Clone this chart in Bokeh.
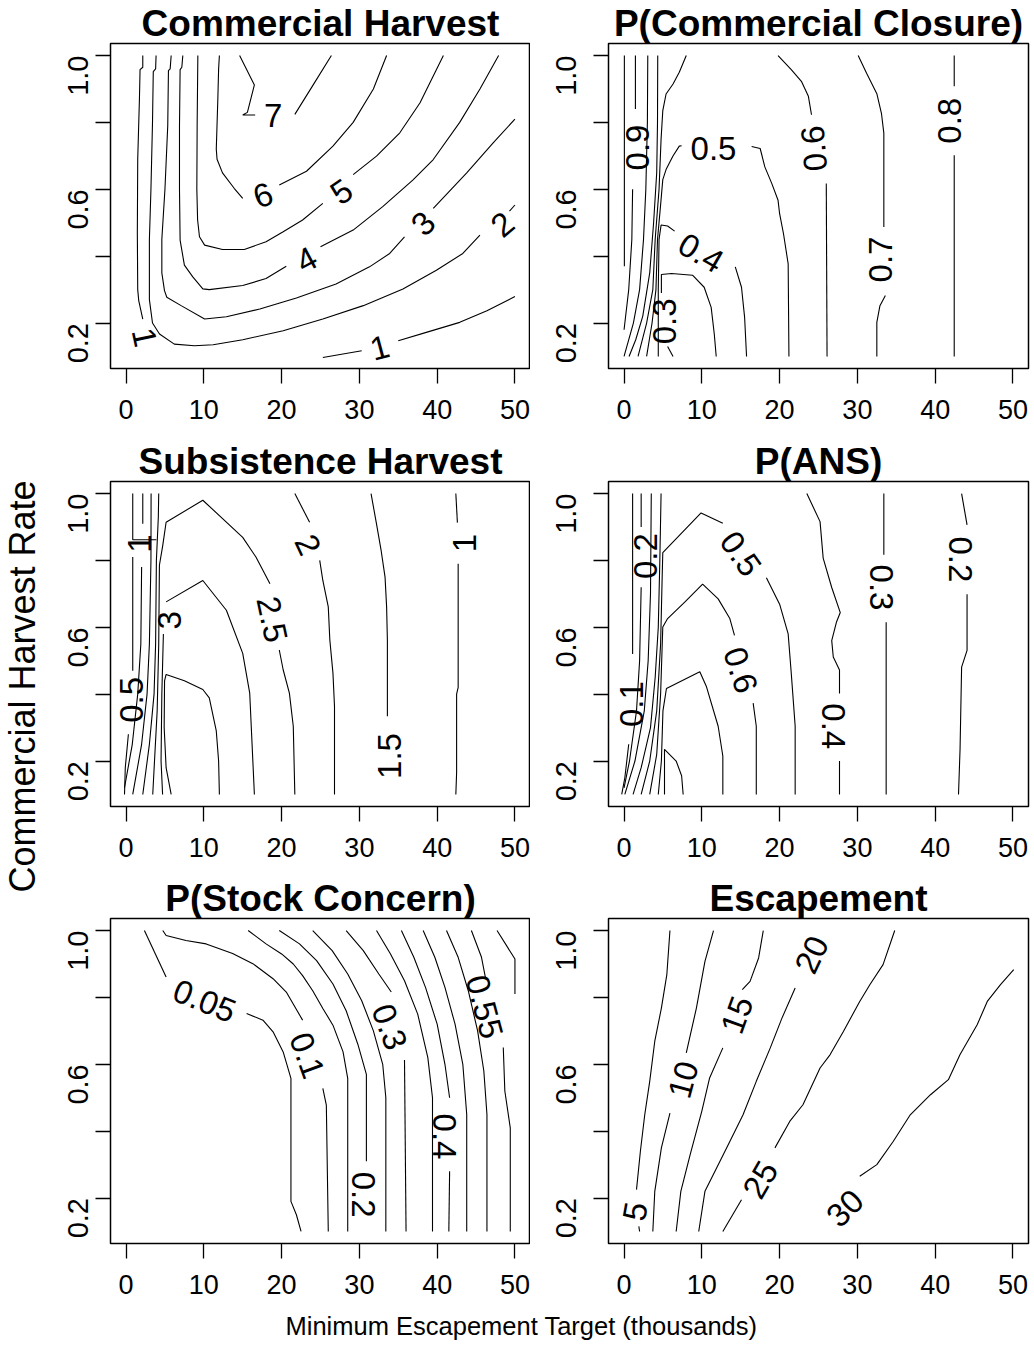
import math
from bokeh.plotting import figure
from bokeh.layouts import row, column, gridplot
from bokeh.models import Range1d, FixedTicker
from bokeh.core.properties import value
from bokeh.embed import file_html
from bokeh.resources import INLINE

# ---------------- data ----------------
X_TICKS = [0, 10, 20, 30, 40, 50]
Y_TICKS = [0.2, 0.4, 0.6, 0.8, 1.0]
Y_TICK_LABELS = ["0.2", "", "0.6", "", "1.0"]
X_LABEL = "Minimum Escapement Target (thousands)"
Y_LABEL = "Commercial Harvest Rate"

panel_titles = ["Commercial Harvest", "P(Commercial Closure)", "Subsistence Harvest",
                "P(ANS)", "P(Stock Concern)", "Escapement"]

# contour lines: level -> list of line pieces [(x, y), ...]
commercial_harvest = {
    1: [[(2.15, 1.0), (2.15, 0.965), (1.8, 0.958), (1.72, 0.87), (1.5, 0.69), (1.45, 0.47), (1.5, 0.3), (1.63, 0.267), (2.15, 0.212)],
        [(25.3, 0.097), (30.3, 0.117)],
        [(35.0, 0.147), (38.6, 0.172), (42.9, 0.202), (46.4, 0.237), (50.0, 0.279)]],
    2: [[(3.86, 1.0), (3.8, 0.96), (3.5, 0.952), (3.4, 0.8), (3.2, 0.6), (3.0, 0.45), (3.0, 0.27), (3.4, 0.2), (4.3, 0.167),
         (6.2, 0.137), (8.8, 0.132), (11.2, 0.135), (15.0, 0.15), (20.2, 0.177), (25.3, 0.212), (30.5, 0.252),
         (35.6, 0.302), (39.9, 0.358), (43.3, 0.408), (45.5, 0.463)],
        [(49.3, 0.535), (50.0, 0.553)]],
    3: [[(5.8, 1.0), (5.67, 0.96), (5.45, 0.955), (5.36, 0.79), (5.0, 0.6), (4.6, 0.45), (4.6, 0.35), (4.94, 0.297),
         (5.24, 0.277), (7.08, 0.252), (10.1, 0.212), (12.9, 0.219), (17.2, 0.242), (21.9, 0.275), (27.0, 0.317),
         (31.3, 0.368), (33.9, 0.408), (35.8, 0.458)],
        [(39.5, 0.543), (43.8, 0.649), (47.2, 0.739), (50.0, 0.81)]],
    4: [[(7.3, 1.0), (7.17, 0.965), (6.95, 0.958), (6.87, 0.79), (6.87, 0.6), (6.95, 0.448), (7.5, 0.373), (8.58, 0.338),
         (9.87, 0.302), (10.7, 0.3), (15.0, 0.312), (18.0, 0.333), (20.6, 0.37)],
        [(25.0, 0.428), (29.2, 0.478), (33.0, 0.548), (36.9, 0.628), (39.5, 0.689), (42.9, 0.8), (45.5, 0.9), (47.9, 1.0)]],
    5: [[(9.23, 1.0), (9.14, 0.79), (9.1, 0.6), (9.2, 0.508), (9.44, 0.458), (10.1, 0.433), (12.4, 0.42), (15.2, 0.42),
         (18.0, 0.443), (20.2, 0.473), (22.7, 0.508), (25.3, 0.558)],
        [(29.2, 0.644), (32.2, 0.699), (35.2, 0.769), (37.8, 0.859), (40.8, 1.0)]],
    6: [[(12.0, 1.0), (11.9, 0.96), (11.8, 0.87), (11.6, 0.72), (11.7, 0.69), (12.4, 0.649), (13.9, 0.603), (15.0, 0.573)],
        [(19.7, 0.613), (23.2, 0.654), (26.6, 0.729), (29.2, 0.8), (31.8, 0.9), (33.5, 1.0)]],
    7: [[(14.6, 1.0), (16.5, 0.912), (15.6, 0.83), (15.0, 0.822), (16.6, 0.822)],
        [(21.7, 0.824), (24.0, 0.91), (26.4, 1.0)]],
}
commercial_harvest_labels = [("7", 18.9, 0.822, 0), ("6", 17.6, 0.583, 20), ("5", 27.7, 0.593, 35),
                             ("4", 23.2, 0.39, 28), ("3", 38.2, 0.498, 45), ("2", 48.4, 0.495, 40),
                             ("1", 32.6, 0.127, 15), ("1", 2.4, 0.157, -78)]

commercial_closure = {
    0.3: [[(5.6, 0.13), (6.3, 0.1)],
          [(4.8, 0.29), (4.8, 0.345), (6.1, 0.348), (8.8, 0.343), (10.3, 0.307), (11.2, 0.247), (11.6, 0.167), (11.85, 0.1)]],
    0.4: [[(4.4, 0.1), (4.4, 0.3), (4.5, 0.45), (4.76, 0.493), (5.6, 0.49), (6.5, 0.475)],
          [(14.3, 0.368), (15.1, 0.307), (15.5, 0.217), (15.75, 0.1)]],
    0.5: [[(2.9, 0.1), (3.6, 0.2), (4.1, 0.3), (4.3, 0.45), (4.68, 0.548), (4.98, 0.629), (5.4, 0.659), (6.27, 0.699), (7.1, 0.729), (7.4, 0.73)],
          [(16.4, 0.728), (17.5, 0.722), (18.1, 0.667), (19.0, 0.617), (19.8, 0.567), (20.0, 0.527), (20.5, 0.467), (21.1, 0.377), (21.2, 0.1)]],
    0.6: [[(8.0, 1.0), (7.1, 0.95), (6.3, 0.915), (5.4, 0.885), (4.98, 0.835), (4.76, 0.75), (4.5, 0.6), (4.0, 0.45), (3.7, 0.3), (2.9, 0.2), (1.8, 0.1)],
          [(19.8, 1.0), (21.5, 0.958), (22.8, 0.923), (23.7, 0.878), (24.1, 0.823)],
          [(26.0, 0.617), (26.1, 0.1)]],
    0.7: [[(4.33, 1.0), (4.3, 0.8), (4.2, 0.65), (3.8, 0.5), (3.3, 0.35), (2.4, 0.22), (1.5, 0.15), (0.64, 0.1)],
          [(30.1, 1.0), (31.2, 0.946), (32.5, 0.886), (33.1, 0.826), (33.4, 0.768), (33.4, 0.487)],
          [(33.6, 0.282), (32.9, 0.252), (32.5, 0.202), (32.5, 0.1)]],
    0.8: [[(3.05, 1.0), (3.0, 0.8), (2.8, 0.6), (2.5, 0.45), (2.0, 0.3), (1.2, 0.2), (0.0, 0.1)],
          [(42.45, 1.0), (42.45, 0.908)],
          [(42.45, 0.702), (42.45, 0.1)]],
    0.9: [[(1.46, 1.0), (1.46, 0.84)],
          [(1.1, 0.6), (1.0, 0.45), (0.6, 0.3), (0.0, 0.18)],
          [(0.04, 1.0), (0.04, 0.37)]],
}
commercial_closure_labels = [("0.3", 5.2, 0.205, 90), ("0.4", 9.9, 0.41, -30), ("0.5", 11.5, 0.722, 0),
                             ("0.6", 24.4, 0.722, 95), ("0.7", 33.0, 0.39, 90), ("0.8", 41.9, 0.805, 90),
                             ("0.9", 1.67, 0.725, 90)]

subsistence_harvest = {
    0.5: [[(0.86, 1.0), (0.86, 0.862), (3.9, 0.862)],
          [(0.86, 0.81), (0.86, 0.47)],
          [(0.3, 0.28), (-0.1, 0.18), (-0.2, 0.1)]],
    1.0: [[(2.15, 1.0), (2.15, 0.91)],
          [(2.0, 0.78), (1.9, 0.55), (1.5, 0.4), (0.8, 0.25), (-0.2, 0.12)],
          [(42.4, 1.0), (42.6, 0.913)],
          [(42.7, 0.79), (42.7, 0.42), (42.5, 0.4), (42.5, 0.165), (42.4, 0.1)]],
    1.5: [[(3.22, 1.0), (3.2, 0.8), (3.0, 0.55), (2.7, 0.4), (2.0, 0.25), (0.86, 0.1)],
          [(31.5, 1.0), (32.2, 0.909), (32.8, 0.829), (33.3, 0.75), (33.5, 0.661), (33.6, 0.562), (33.6, 0.334)]],
    2.0: [[(4.2, 1.0), (4.15, 0.93), (3.9, 0.8), (3.8, 0.55), (3.6, 0.4), (3.0, 0.25), (2.15, 0.1)],
          [(21.7, 1.0), (23.6, 0.914)],
          [(24.9, 0.8), (25.3, 0.74), (26.0, 0.661), (26.2, 0.562), (26.6, 0.463), (26.8, 0.364), (26.8, 0.1)]],
    2.5: [[(3.43, 0.1), (4.0, 0.35), (4.2, 0.55), (4.29, 0.786), (4.72, 0.845), (5.15, 0.914), (9.87, 0.98), (15.0, 0.869), (16.7, 0.81), (18.5, 0.73)],
          [(19.7, 0.532), (20.2, 0.473), (21.0, 0.403), (21.5, 0.304), (21.7, 0.1)]],
    3.0: [[(4.7, 0.1), (4.5, 0.2), (4.6, 0.4), (4.8, 0.58)],
          [(5.15, 0.676), (9.87, 0.74), (12.9, 0.651), (15.0, 0.522), (15.9, 0.403), (16.5, 0.1)]],
    3.5: [[(5.8, 0.1), (5.15, 0.18), (4.9, 0.3), (4.95, 0.44), (5.15, 0.459), (7.5, 0.44), (9.87, 0.414), (10.7, 0.389), (11.6, 0.29), (11.9, 0.2), (12.0, 0.1)]],
}
subsistence_harvest_labels = [("0.5", 0.64, 0.383, 90), ("1", 1.7, 0.85, 90), ("3", 5.58, 0.621, 90),
                              ("2.5", 18.8, 0.624, -78), ("2", 23.4, 0.847, -65), ("1.5", 33.9, 0.215, 90),
                              ("1", 43.5, 0.852, 90)]

p_ans = {
    0.1: [[(1.1, 1.0), (1.1, 0.52)],
          [(0.6, 0.25), (0.1, 0.15), (-0.3, 0.1)]],
    0.2: [[(2.2, 1.0), (2.2, 0.9)],
          [(2.2, 0.72), (2.0, 0.5), (1.6, 0.35), (0.7, 0.2), (0.0, 0.12)],
          [(43.4, 1.0), (44.1, 0.906)],
          [(44.1, 0.699), (44.1, 0.531), (43.4, 0.481), (43.2, 0.235), (43.0, 0.1)]],
    0.3: [[(3.5, 1.0), (3.4, 0.7), (3.1, 0.5), (2.6, 0.35), (1.4, 0.2), (0.1, 0.1)],
          [(33.4, 1.0), (33.4, 0.817)],
          [(33.7, 0.615), (33.7, 0.1)]],
    0.4: [[(4.76, 1.0), (4.6, 0.8), (4.4, 0.6), (4.0, 0.45), (3.4, 0.3), (2.2, 0.18), (1.16, 0.1)],
          [(23.5, 1.0), (25.2, 0.916), (25.6, 0.807), (26.7, 0.719), (27.8, 0.644), (27.3, 0.615), (26.7, 0.56), (26.9, 0.511), (27.7, 0.472), (27.7, 0.402)],
          [(27.7, 0.2), (27.7, 0.1)]],
    0.5: [[(2.2, 0.1), (3.3, 0.2), (4.2, 0.35), (4.7, 0.55), (4.9, 0.75), (4.98, 0.823), (9.9, 0.942), (12.7, 0.911)],
          [(18.3, 0.748), (20.0, 0.669), (21.1, 0.58), (21.5, 0.462), (22.0, 0.304), (22.0, 0.1)]],
    0.6: [[(3.3, 0.1), (4.2, 0.22), (4.7, 0.4), (4.98, 0.601), (5.6, 0.626), (7.8, 0.675), (10.1, 0.729), (12.1, 0.685), (13.6, 0.626), (14.2, 0.576)],
          [(16.6, 0.373), (17.0, 0.304), (17.0, 0.1)]],
    0.7: [[(4.4, 0.1), (4.8, 0.2), (5.0, 0.35), (5.45, 0.417), (9.74, 0.467), (10.6, 0.422), (12.1, 0.304), (12.7, 0.215), (12.7, 0.1)]],
    0.8: [[(5.2, 0.1), (5.2, 0.235), (6.7, 0.2), (7.4, 0.156), (7.6, 0.1)]],
}
p_ans_labels = [("0.1", 0.9, 0.37, 90), ("0.2", 2.8, 0.813, 90), ("0.5", 15.0, 0.82, -55),
                ("0.6", 15.0, 0.472, -72), ("0.4", 26.9, 0.304, -90), ("0.3", 33.1, 0.719, -90),
                ("0.2", 43.2, 0.803, -90)]

stock_concern = {
    0.05: [[(2.36, 1.0), (5.15, 0.861)],
           [(15.5, 0.752), (17.6, 0.732), (18.9, 0.697), (20.2, 0.637), (21.2, 0.558), (21.2, 0.19), (21.9, 0.15), (22.5, 0.1)]],
    0.10: [[(4.72, 1.0), (5.15, 0.985), (7.7, 0.97), (10.3, 0.96), (13.7, 0.931), (16.3, 0.901), (18.9, 0.856), (20.6, 0.816), (22.7, 0.732)],
           [(25.3, 0.528), (25.75, 0.478), (26.0, 0.1)]],
    0.15: [[(15.7, 1.0), (18.0, 0.96), (20.0, 0.93), (21.5, 0.9), (22.7, 0.865), (24.0, 0.82), (25.3, 0.767), (26.6, 0.717), (27.9, 0.637), (28.5, 0.558), (28.5, 0.1)]],
    0.20: [[(19.7, 1.0), (22.3, 0.96), (24.5, 0.91), (26.6, 0.84), (28.3, 0.76), (29.8, 0.66), (30.9, 0.57), (30.9, 0.31)]],
    0.25: [[(24.0, 1.0), (26.5, 0.94), (28.5, 0.87), (30.3, 0.79), (31.8, 0.7), (33.0, 0.6), (33.4, 0.5), (33.4, 0.1)]],
    0.30: [[(28.3, 1.0), (30.5, 0.94), (32.5, 0.87), (34.1, 0.816)],
           [(35.8, 0.613), (36.0, 0.1)]],
    0.35: [[(32.2, 1.0), (34.0, 0.93), (35.8, 0.85), (37.5, 0.75), (38.8, 0.62), (39.4, 0.5), (39.4, 0.1)]],
    0.40: [[(35.4, 1.0), (37.0, 0.92), (38.5, 0.83), (40.0, 0.72), (41.0, 0.6), (41.6, 0.5)],
           [(41.6, 0.28), (41.5, 0.1)]],
    0.45: [[(38.2, 1.0), (39.7, 0.92), (41.0, 0.83), (42.3, 0.72), (43.3, 0.6), (43.8, 0.45), (43.8, 0.1)]],
    0.50: [[(41.2, 1.0), (42.7, 0.92), (44.0, 0.82), (45.2, 0.7), (46.0, 0.58), (46.4, 0.45), (46.4, 0.1)]],
    0.55: [[(44.4, 1.0), (45.7, 0.92), (46.2, 0.86)],
           [(48.5, 0.65), (48.7, 0.52), (49.4, 0.41), (49.4, 0.1)]],
    0.60: [[(47.7, 1.0), (50.0, 0.915), (50.0, 0.81)]],
}
stock_concern_labels = [("0.05", 10.1, 0.79, -22), ("0.1", 23.3, 0.627, -70), ("0.2", 30.5, 0.21, -90),
                        ("0.3", 33.9, 0.712, -70), ("0.4", 41.0, 0.384, -90), ("0.55", 46.1, 0.772, -75)]

escapement = {
    5: [[(5.9, 1.0), (5.5, 0.868), (4.8, 0.768), (3.95, 0.669), (3.3, 0.549), (2.66, 0.449), (2.1, 0.34), (1.6, 0.225)],
        [(1.9, 0.115), (2.0, 0.1)]],
    10: [[(11.5, 1.0), (10.4, 0.908), (9.3, 0.768), (8.0, 0.634)],
         [(5.9, 0.454), (4.8, 0.35), (3.95, 0.22), (3.7, 0.1)]],
    15: [[(17.9, 1.0), (17.3, 0.918), (16.2, 0.848), (15.2, 0.823)],
         [(12.7, 0.649), (11.0, 0.559), (10.0, 0.46), (8.5, 0.33), (7.3, 0.22), (6.7, 0.1)]],
    20: [[(22.0, 0.828), (20.3, 0.738), (18.8, 0.649), (17.0, 0.549), (15.3, 0.449), (13.6, 0.369), (11.9, 0.29), (10.4, 0.22), (9.6, 0.1)]],
    25: [[(34.8, 1.0), (33.3, 0.898), (31.6, 0.838), (30.3, 0.788), (28.2, 0.698), (26.5, 0.629), (25.2, 0.589), (23.0, 0.479), (21.3, 0.429), (19.4, 0.35)],
         [(15.1, 0.195), (12.7, 0.1)]],
    30: [[(50.1, 0.883), (48.4, 0.838), (46.7, 0.788), (45.4, 0.718), (43.2, 0.629), (41.7, 0.554), (39.4, 0.509),
          (36.8, 0.449), (34.6, 0.369), (32.5, 0.3), (30.3, 0.265)]],
}
escapement_labels = [("5", 1.4, 0.16, 80), ("10", 7.6, 0.554, 75), ("15", 14.5, 0.748, 70),
                     ("20", 24.1, 0.928, 65), ("25", 17.5, 0.255, 60), ("30", 28.4, 0.17, 45)]

panel_contours = [commercial_harvest, commercial_closure, subsistence_harvest, p_ans, stock_concern, escapement]
panel_labels = [commercial_harvest_labels, commercial_closure_labels, subsistence_harvest_labels,
                p_ans_labels, stock_concern_labels, escapement_labels]

# ---------------- styling / layout ----------------
FONT = "Liberation Sans"
X_MIN, X_MAX = -2, 52
Y_MIN, Y_MAX = 0.064, 1.036
YLAB_W = 44
FRAME_W = 420
FRAME_H = 325
BORDER_LEFT = [66, 78]
BORDER_RIGHT = [0, 6]
COL_W = [BORDER_LEFT[i] + FRAME_W + BORDER_RIGHT[i] for i in range(2)]
ROW_H = [437, 437, 431]
TOP = [43, 44, 44]
Y_STANDOFF = [17, 27]


def make_panel(idx):
    r, c = divmod(idx, 2)
    p = figure(width=COL_W[c], height=ROW_H[r], x_range=Range1d(X_MIN, X_MAX), y_range=Range1d(Y_MIN, Y_MAX),
               output_backend="svg", toolbar_location=None, tools="")
    p.min_border_left = BORDER_LEFT[c]
    p.min_border_right = BORDER_RIGHT[c]
    p.min_border_top = TOP[r]
    p.min_border_bottom = ROW_H[r] - TOP[r] - FRAME_H
    p.background_fill_color = "white"
    p.border_fill_color = "white"
    p.outline_line_color = "black"
    p.outline_line_width = 1.5
    p.xgrid.visible = False
    p.ygrid.visible = False

    p.title.text = panel_titles[idx]
    p.title.align = "center"
    p.title.text_font = FONT
    p.title.text_font_size = "37px"
    p.title.text_font_style = "bold"
    p.title.text_color = "black"
    p.title.standoff = 0

    xa = p.xaxis[0]
    xa.ticker = FixedTicker(ticks=X_TICKS, minor_ticks=[])
    xa.axis_line_color = None
    xa.major_tick_out = 15
    xa.major_tick_in = 0
    xa.major_tick_line_width = 1.3
    xa.major_tick_line_color = "black"
    xa.minor_tick_line_color = None
    xa.major_label_text_font = FONT
    xa.major_label_text_font_size = "27px"
    xa.major_label_text_color = "black"
    xa.major_label_standoff = 16

    ya = p.yaxis[0]
    ya.ticker = FixedTicker(ticks=Y_TICKS, minor_ticks=[])
    ya.major_label_overrides = {t: s for t, s in zip(Y_TICKS, Y_TICK_LABELS)}
    ya.axis_line_color = None
    ya.major_tick_out = 15
    ya.major_tick_in = 0
    ya.major_tick_line_width = 1.3
    ya.major_tick_line_color = "black"
    ya.minor_tick_line_color = None
    ya.major_label_orientation = math.pi / 2
    ya.major_label_text_font = FONT
    ya.major_label_text_font_size = "29px"
    ya.major_label_text_color = "black"
    ya.major_label_standoff = Y_STANDOFF[c]

    xs, ys = [], []
    for level, pieces in panel_contours[idx].items():
        for piece in pieces:
            xs.append([pt[0] for pt in piece])
            ys.append([pt[1] for pt in piece])
    p.multi_line(xs=xs, ys=ys, line_color="black", line_width=1.1)

    labs = panel_labels[idx]
    p.text(x=[l[1] for l in labs], y=[l[2] for l in labs], text=[l[0] for l in labs],
           angle=[math.radians(l[3]) for l in labs],
           text_font=value(FONT), text_font_size=value("33px"), text_color="black",
           text_align="center", text_baseline="middle")
    return p


panels = [make_panel(i) for i in range(6)]
grid = gridplot([[panels[0], panels[1]], [panels[2], panels[3]], [panels[4], panels[5]]],
                toolbar_location=None)

grid_h = sum(ROW_H)
ylab = figure(width=YLAB_W, height=grid_h, x_range=Range1d(0, YLAB_W), y_range=Range1d(0, grid_h),
              output_backend="svg", toolbar_location=None, tools="",
              x_axis_location=None, y_axis_location=None, min_border=0)
ylab.outline_line_color = None
ylab.xgrid.visible = False
ylab.ygrid.visible = False
ylab.text(x=[22], y=[grid_h - 686], text=[Y_LABEL], angle=[math.pi / 2], text_font=value(FONT),
          text_font_size=value("36px"), text_align="center", text_baseline="middle", text_color="black")

XLAB_H = 1362 - grid_h
xlab = figure(width=1034, height=XLAB_H, x_range=Range1d(0, 1034), y_range=Range1d(0, XLAB_H),
              output_backend="svg", toolbar_location=None, tools="",
              x_axis_location=None, y_axis_location=None, min_border=0)
xlab.outline_line_color = None
xlab.xgrid.visible = False
xlab.ygrid.visible = False
xlab.text(x=[521], y=[XLAB_H - 20], text=[X_LABEL], text_font=value(FONT),
          text_font_size=value("25.5px"), text_align="center", text_baseline="alphabetic", text_color="black")

layout = column(row(ylab, grid), xlab)
open("out.html", "w").write(file_html(layout, INLINE, title="contours"))
